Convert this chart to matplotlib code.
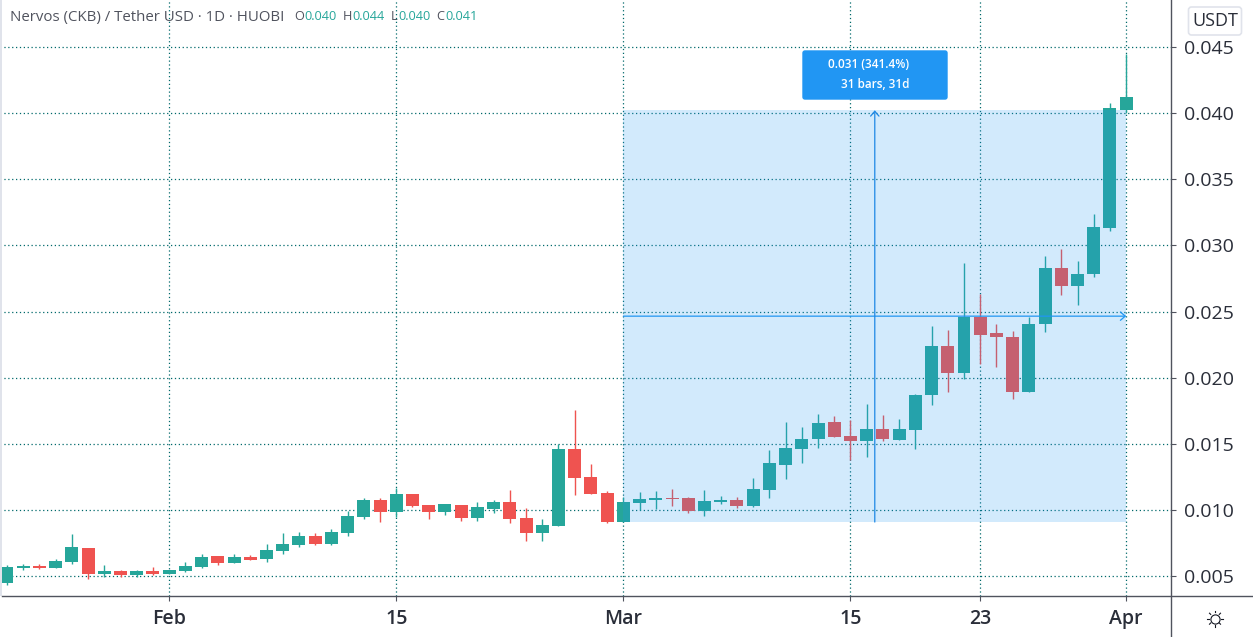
import matplotlib
matplotlib.use("Agg")
import matplotlib.pyplot as plt
from matplotlib.lines import Line2D
from matplotlib.patches import FancyBboxPatch, Rectangle

plt.rcParams['font.family'] = ['Open Sans', 'DejaVu Sans']

# days counted from 1 Feb, first candle is 22 Jan
days = list(range(-10, 60))
opens = [.00450, .00563, .00578, .00563, .00608, .00714, .00518, .00540, .00510, .00540,
         .00518, .00540, .00571, .00654, .00601, .00646, .00631, .00691, .00737, .00805,
         .00744, .00827, .00948, .01077, .00986, .01123, .01040, .00987, .01040, .00942,
         .01010, .01063, .00942, .00829, .00882, .01463, .01252, .01131, .00912, .01055,
         .01078, .01093, .01093, .00995, .01063, .01078, .01033, .01154, .01344, .01465,
         .01540, .01669, .01563, .01525, .01616, .01533, .01608, .01873, .02236, .02039,
         .02462, .02334, .02311, .01895, .02402, .02832, .02689, .02780, .03131, .04022]
highs = [.00586, .00593, .00593, .00631, .00820, .00714, .00586, .00548, .00548, .00571,
         .00548, .00608, .00669, .00654, .00669, .00661, .00744, .00827, .00835, .00827,
         .00858, .00994, .01092, .01092, .01167, .01123, .01040, .01048, .01040, .01063,
         .01078, .01154, .01018, .00935, .01499, .01758, .01350, .01146, .01100, .01139,
         .01146, .01161, .01101, .01154, .01108, .01101, .01244, .01456, .01668, .01631,
         .01729, .01714, .01681, .01805, .01722, .01691, .01880, .02394, .02364, .02870,
         .02636, .02409, .02356, .02462, .02916, .02969, .02885, .03236, .04075, .04445]
lows = [.00435, .00548, .00555, .00563, .00593, .00480, .00495, .00495, .00495, .00510,
        .00518, .00533, .00563, .00586, .00601, .00623, .00608, .00669, .00722, .00737,
        .00737, .00805, .00933, .00911, .00948, .01025, .00935, .00965, .00919, .00919,
        .00980, .00904, .00767, .00767, .00882, .01116, .01123, .00904, .00912, .01003,
        .01010, .01033, .00980, .00957, .01048, .01018, .01025, .01093, .01237, .01359,
        .01472, .01555, .01382, .01404, .01525, .01533, .01465, .01797, .01895, .01994,
        .02107, .02084, .01843, .01895, .02349, .02628, .02553, .02757, .03110, .04000]
closes = [.00571, .00578, .00563, .00616, .00722, .00518, .00540, .00510, .00540, .00518,
          .00548, .00578, .00646, .00601, .00646, .00623, .00699, .00744, .00805, .00744,
          .00835, .00956, .01077, .00986, .01122, .01033, .00987, .01048, .00942, .01025,
          .01063, .00935, .00829, .00889, .01463, .01244, .01123, .00912, .01063, .01086,
          .01093, .01086, .00995, .01071, .01078, .01033, .01161, .01358, .01472, .01540,
          .01661, .01555, .01525, .01616, .01540, .01616, .01873, .02236, .02039, .02462,
          .02326, .02304, .01895, .02402, .02832, .02689, .02780, .03138, .04037, .04120]

y_ticks = [.005, .010, .015, .020, .025, .030, .035, .040, .045]
x_ticks = [0, 14, 28, 42, 50, 59]
x_tick_labels = ['Feb', '15', 'Mar', '15', '23', 'Apr']

measure_start, measure_end = 28, 59
measure_low, measure_high = .0091, .0402
measure_mid = .02465
measure_label = ['0.031 (341.4%)', '31 bars, 31d']

header_title = 'Nervos (CKB) / Tether USD · 1D · HUOBI'
header_parts = [('O', 294.5, '#50535e'), ('0.040', 304, '#26a69a'),
                ('H', 343, '#50535e'), ('0.044', 352.5, '#26a69a'),
                ('L', 390.5, '#50535e'), ('0.040', 398, '#26a69a'),
                ('C', 436, '#50535e'), ('0.041', 445, '#26a69a')]

UP = '#26a69a'
DOWN = '#ef5350'
GRID = '#00696b'
AXIS = '#50535e'
TEXT = '#2a2e39'
BLUE = '#2196f3'

W, H = 1253, 637
fig = plt.figure(figsize=(W / 100, H / 100), dpi=100, facecolor='white')
ax = fig.add_axes([0, 1 - 596.3 / H, 1171.3 / W, 596.3 / H])
ax.set_xlim(-10.43, 61.78)
ax.set_ylim(.00349, .04853)

colors = [UP if c >= o else DOWN for o, c in zip(opens, closes)]
ax.vlines(days, lows, highs, colors=colors, linewidth=1.0, zorder=2)
bottoms = [min(o, c) for o, c in zip(opens, closes)]
heights = [abs(c - o) for o, c in zip(opens, closes)]
ax.bar(days, heights, bottom=bottoms, width=0.8, color=colors, linewidth=0, zorder=3)

ax.grid(True, color=GRID, linestyle=(0, (1, 2.1)), linewidth=0.9, zorder=1)
ax.set_axisbelow(True)
ax.set_xticks(x_ticks)
ax.set_xticklabels(x_tick_labels, fontsize=14, fontweight='semibold', color=TEXT)
ax.set_yticks(y_ticks)
ax.set_yticklabels([f'{v:.3f}' for v in y_ticks], fontsize=14, color=TEXT)
ax.yaxis.tick_right()
ax.tick_params(axis='x', length=3.4, width=0.8, color=AXIS, pad=5.5)
ax.tick_params(axis='y', length=3.4, width=0.8, color=AXIS, pad=6)
for side in ax.spines:
    ax.spines[side].set_visible(False)

# measure tool, sits on top of the candles
ax.add_patch(Rectangle((measure_start, measure_low), measure_end - measure_start,
                       measure_high - measure_low, facecolor=BLUE, alpha=0.2,
                       linewidth=0, zorder=4))
mid_x = (measure_start + measure_end) / 2
ax.annotate('', xy=(measure_end, measure_mid), xytext=(measure_start, measure_mid),
            arrowprops=dict(arrowstyle='->,head_length=0.35,head_width=0.3', color=BLUE, lw=0.9,
                            shrinkA=0, shrinkB=0, mutation_scale=10), zorder=5)
ax.annotate('', xy=(mid_x, measure_high), xytext=(mid_x, measure_low),
            arrowprops=dict(arrowstyle='->,head_length=0.35,head_width=0.3', color='#1e88e5', lw=0.9,
                            shrinkA=0, shrinkB=0, mutation_scale=10), zorder=5)

# everything below is placed in pixels of the screenshot
overlay = fig.add_axes([0, 0, 1, 1], facecolor='none')
overlay.set_xlim(0, W)
overlay.set_ylim(H, 0)
overlay.axis('off')

overlay.add_patch(Rectangle((0, 0), 1.6, 596, facecolor='#e0e3eb', linewidth=0))
overlay.add_line(Line2D([1.6, W], [596.3, 596.3], color=AXIS, lw=1.0))
overlay.add_line(Line2D([1171.3, 1171.3], [0, H], color=AXIS, lw=1.0))

overlay.add_patch(FancyBboxPatch((803, 51), 144, 48, boxstyle='round,pad=0,rounding_size=2',
                                 facecolor=BLUE, edgecolor=BLUE, lw=1))
overlay.text(869, 64.5, measure_label[0], color='white', fontsize=8.5, fontweight='semibold',
             ha='center', va='center')
overlay.text(875, 84.5, measure_label[1], color='white', fontsize=8.5, fontweight='semibold',
             ha='center', va='center')

overlay.add_patch(FancyBboxPatch((1188.5, 7), 53, 28, boxstyle='round,pad=0,rounding_size=3',
                                 facecolor='white', edgecolor='#e0e3eb', lw=1.2))
overlay.text(1215, 21, 'USDT', color=TEXT, fontsize=13, ha='center', va='center')

overlay.text(10, 17, header_title, color='#50535e', fontsize=10.85, ha='left', va='center')
for label, x, color in header_parts:
    overlay.text(x, 17, label, color=color, fontsize=9.2, ha='left', va='center')

# sun icon of the time axis
sun_x, sun_y = 1215, 618.7
overlay.plot([sun_x], [sun_y], marker='o', ms=6.6, mfc='white', mec='#131722', mew=0.8)
for dx, dy in [(0, -8), (0, 8), (-8, 0), (8, 0), (-5.5, -5.5), (5.5, -5.5), (-5.5, 5.5), (5.5, 5.5)]:
    overlay.plot([sun_x + dx * 0.78, sun_x + dx], [sun_y + dy * 0.78, sun_y + dy],
                 color='#131722', lw=0.8)

fig.savefig('out.png', dpi=100)
